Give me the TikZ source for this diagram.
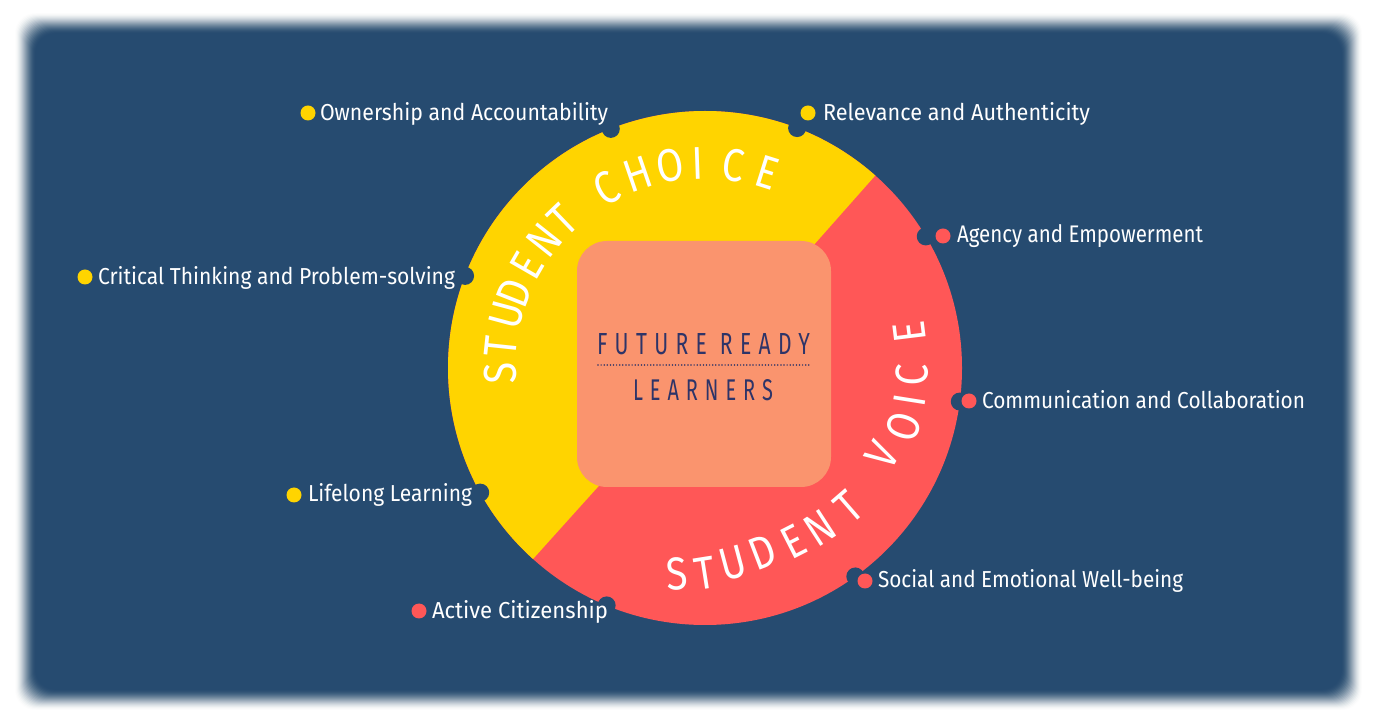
\documentclass[tikz,border=0pt]{standalone}
\usepackage{fontspec}
\usepackage{graphicx}
\setmainfont{Fira Sans}
\newfontfamily\labfont{Fira Sans}
\newfontfamily\bigfont{Fira Sans}
\newfontfamily\ctrfont[LetterSpace=35.0]{Fira Sans}
\usetikzlibrary{calc}
\definecolor{navy}{HTML}{264B70}
\definecolor{ylw}{HTML}{FFD400}
\definecolor{rd}{HTML}{FF5757}
\definecolor{salmon}{HTML}{FA946E}
\definecolor{ink}{HTML}{2E3468}
\tikzset{
  lab/.style={text=white, anchor=base west, inner sep=0pt, outer sep=0pt},
  dot/.style={circle, inner sep=0pt, minimum size=15pt},
  notch/.style={circle, fill=navy, inner sep=0pt, minimum size=18pt},
  big/.style={text=white, inner sep=0pt, font=\bigfont\fontsize{46}{46}\selectfont},
  ctr/.style={text=ink, inner sep=0pt}
}
\begin{document}
\begin{tikzpicture}[x=1pt,y=1pt]
\useasboundingbox (0,0) rectangle (1382,726);
\fill[white] (0,0) rectangle (1382,726);
% blurred navy panel (smooth ramp)
\foreach \k in {0,...,21} {
  \pgfmathsetmacro\tb{\k/22}
  \pgfmathsetmacro\ta{(\k+1)/22}
  \pgfmathsetmacro\cb{3*\tb*\tb-2*\tb*\tb*\tb}
  \pgfmathsetmacro\ca{3*\ta*\ta-2*\ta*\ta*\ta}
  \pgfmathsetmacro\op{min(1,(\ca-\cb)/(1-\cb))}
  \fill[navy, fill opacity=\op, rounded corners=20pt] (15+\k,16+\k) rectangle (1362-\k,713-\k);
}
% wheel
\coordinate (C) at (705,358);
\fill[rd] (C) circle[radius=257pt];
\fill[ylw] (C) -- ++(48.5:257pt) arc[start angle=48.5, end angle=228, radius=257pt] -- cycle;
% notches
\foreach \a [count=\i] in {111.5,69,30.8,-7.5,-54.2,247.5,209,159}
  \node[notch] (n\i) at ($(C)+(\a:257pt)$) {};
% centre square
\node[fill=salmon, rounded corners=30pt, minimum width=254pt, minimum height=246pt, inner sep=0pt] (sq) at (704,362) {};
\node[ctr] (t1) at (703.5,381.5) {\resizebox{213pt}{21pt}{\ctrfont FUTURE READY}};
\coordinate (dl) at (598,361);
\coordinate (dr) at (810,361);
\draw[ink, line width=1.7pt, dash pattern=on 0pt off 3.1pt, line cap=round] (dl) -- (dr);
\node[ctr] (t2) at (703,335.5) {\resizebox{140pt}{21pt}{\ctrfont LEARNERS}};
% curved titles
\foreach \l/\a [count=\i] in {S/181.4,T/174,U/165,D/158.5,E/150,N/141.6,T/133.8,C/118.6,H/109,O/99.9,I/92,C/82,E/72.4}
  \node[big, rotate=\a-90] (ch\i) at ($(C)+(\a:205pt)$) {\scalebox{0.85}[1]{\l}};
\foreach \l/\a/\r/\rot [count=\i] in {S/-97.7/208/4,T/-90/205/9,U/-81.8/197/15,D/-72.5/193/21,E/-62.9/195/27,N/-54.3/197/33,T/-44/200/41,V/-26.2/197/60,O/-16.6/207/72,I/-8.9/207/81,C/-1.9/207/88,E/10/208/97}
  \node[big, rotate=\rot] (vo\i) at ($(C)+(\a:\r pt)$) {\scalebox{0.85}[1]{\l}};
% labels
\node[dot, fill=ylw] (d1) at (308,613) {};
\node[lab] (l1) at (320,605) {\resizebox{288pt}{18pt}{\labfont Ownership and Accountability}};
\node[dot, fill=ylw] (d2) at (808,613) {};
\node[lab] (l2) at (823,605) {\resizebox{267pt}{18pt}{\labfont Relevance and Authenticity}};
\node[dot, fill=rd] (d3) at (943,490) {};
\node[lab] (l3) at (957,483) {\resizebox{246pt}{18pt}{\labfont Agency and Empowerment}};
\node[dot, fill=rd] (d4) at (969,325) {};
\node[lab] (l4) at (982,317) {\resizebox{323pt}{18pt}{\labfont Communication and Collaboration}};
\node[dot, fill=rd] (d5) at (865,145) {};
\node[lab] (l5) at (878,138) {\resizebox{305pt}{18pt}{\labfont Social and Emotional Well-being}};
\node[dot, fill=rd] (d6) at (419,115) {};
\node[lab] (l6) at (432,107) {\resizebox{176pt}{18pt}{\labfont Active Citizenship}};
\node[dot, fill=ylw] (d7) at (294,231) {};
\node[lab] (l7) at (308,224) {\resizebox{164pt}{18pt}{\labfont Lifelong Learning}};
\node[dot, fill=ylw] (d8) at (85,449) {};
\node[lab] (l8) at (98,441) {\resizebox{357pt}{18pt}{\labfont Critical Thinking and Problem-solving}};
\end{tikzpicture}
\end{document}
